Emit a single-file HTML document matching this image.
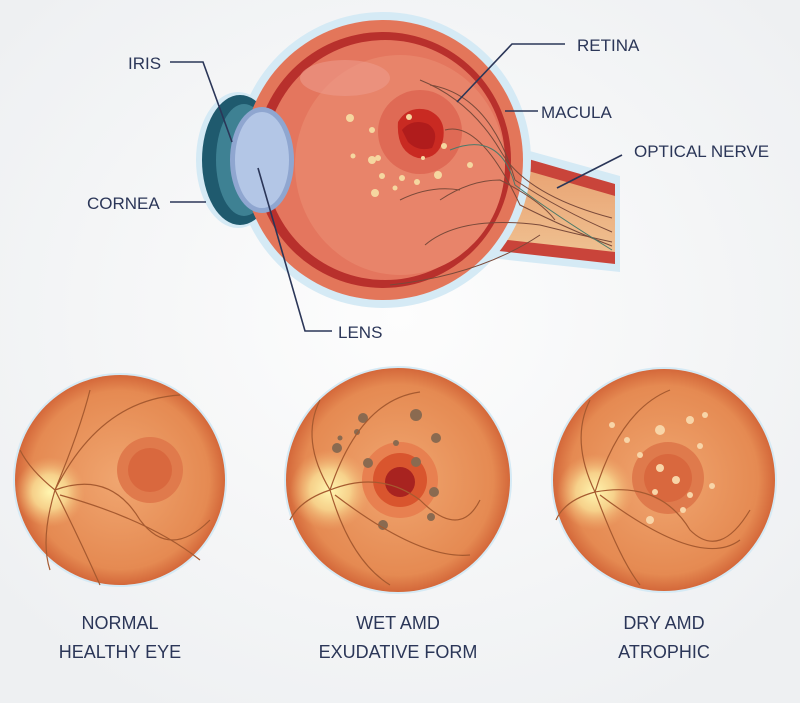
<!DOCTYPE html>
<html><head><meta charset="utf-8"><style>
body{margin:0;background:#fff}
svg{display:block}
text{font-family:"Liberation Sans",sans-serif;fill:#2b3658}
</style></head><body>
<svg width="800" height="703" viewBox="0 0 800 703">
<defs>
<radialGradient id="bg" cx="50%" cy="45%" r="65%"><stop offset="0" stop-color="#fdfdfd"/><stop offset="1" stop-color="#eef0f2"/></radialGradient>
<radialGradient id="fd" cx="50%" cy="50%" r="50%"><stop offset="0" stop-color="#f0a670"/><stop offset="0.85" stop-color="#e58a52"/><stop offset="1" stop-color="#d4683a"/></radialGradient>
<radialGradient id="disc" cx="50%" cy="50%" r="50%"><stop offset="0" stop-color="#fff6b0"/><stop offset="0.5" stop-color="#f8d890" stop-opacity="0.9"/><stop offset="1" stop-color="#f0b070" stop-opacity="0"/></radialGradient>
<linearGradient id="nerve" x1="0" y1="0" x2="0" y2="1"><stop offset="0" stop-color="#e8a070"/><stop offset="1" stop-color="#efc090"/></linearGradient>
</defs>
<rect width="800" height="703" fill="url(#bg)"/>
<polygon points="490,140 620,176 620,272 490,258" fill="#d5eaf5"/>
<polygon points="490,148 615,184 615,264 490,250" fill="#c9443a"/>
<polygon points="490,160 615,196 615,252 490,238" fill="url(#nerve)"/>
<circle cx="383" cy="160" r="148" fill="#d5eaf5"/>
<ellipse cx="238" cy="160" rx="42" ry="68" fill="#d5eaf5"/>
<ellipse cx="240" cy="160" rx="38" ry="65" fill="#1f5a6e"/>
<ellipse cx="244" cy="160" rx="28" ry="56" fill="#3e8193"/>
<circle cx="383" cy="160" r="140" fill="#e3765a"/>
<circle cx="383" cy="160" r="128" fill="#b8302c"/>
<circle cx="385" cy="160" r="120" fill="#e4765e"/>
<ellipse cx="400" cy="165" rx="105" ry="110" fill="#e8846a"/>
<ellipse cx="345" cy="78" rx="45" ry="18" fill="#ec9a8a" opacity="0.6"/>
<ellipse cx="262" cy="160" rx="32" ry="53" fill="#8fa6d0"/>
<ellipse cx="262" cy="160" rx="27" ry="48" fill="#b3c6e6"/>
<circle cx="420" cy="132" r="42" fill="#df6a55"/>
<path d="M398,122 Q408,105 428,110 Q447,118 443,140 Q438,160 418,158 Q396,152 398,122Z" fill="#c92a22"/>
<path d="M402,130 Q412,118 428,124 Q440,132 432,148 Q418,152 408,142Z" fill="#b01c1c"/>
<g fill="#f5d7a0">
<circle cx="350" cy="118" r="4"/><circle cx="372" cy="130" r="3"/><circle cx="378" cy="158" r="3"/><circle cx="353" cy="156" r="2.5"/><circle cx="372" cy="160" r="4"/><circle cx="382" cy="176" r="3"/><circle cx="375" cy="193" r="4"/><circle cx="395" cy="188" r="2.5"/><circle cx="402" cy="178" r="3"/><circle cx="417" cy="182" r="3"/><circle cx="438" cy="175" r="4"/><circle cx="470" cy="165" r="3"/><circle cx="409" cy="117" r="3"/><circle cx="444" cy="146" r="3"/><circle cx="423" cy="158" r="2"/>
</g>
<g fill="none" stroke="#7a4a3a" stroke-width="1">
<path d="M420,80 Q470,100 500,150 Q525,195 612,218"/><path d="M430,85 Q490,95 515,180 Q560,210 612,232"/>
<path d="M445,130 Q480,120 520,205 Q570,230 612,246"/><path d="M440,200 Q470,180 500,180 Q540,200 555,220"/>
<path d="M400,200 Q430,185 460,190"/><path d="M425,245 Q460,215 540,225 Q580,235 612,242"/><path d="M390,285 Q480,275 540,235"/>
</g>
<path d="M450,150 Q500,130 515,185 Q555,215 612,250" fill="none" stroke="#4a7a6a" stroke-width="1"/>
<g fill="none" stroke="#2b3658" stroke-width="1.6">
<polyline points="170,62 203,62 232,142"/><polyline points="170,202 206,202"/>
<polyline points="332,331 305,331 258,168"/><polyline points="565,44 512,44 457,102"/>
<polyline points="538,111 505,111"/><polyline points="622,155 557,188"/>
</g>
<g font-size="17">
<text x="128" y="69">IRIS</text><text x="87" y="209">CORNEA</text><text x="338" y="338">LENS</text>
<text x="577" y="51">RETINA</text><text x="541" y="118">MACULA</text><text x="634" y="157">OPTICAL NERVE</text>
</g>
<g>
<circle cx="120" cy="480" r="107" fill="#d5eaf5"/><circle cx="120" cy="480" r="105" fill="url(#fd)"/>
<circle cx="50" cy="492" r="35" fill="url(#disc)"/>
<circle cx="150" cy="470" r="33" fill="#e07a4c"/><circle cx="150" cy="470" r="22" fill="#d9683e"/>
<g fill="none" stroke="#a65a30" stroke-width="1.2"><path d="M55,490 Q80,430 90,390"/><path d="M55,490 Q100,400 180,395"/><path d="M55,490 Q110,470 140,520 Q170,560 210,520"/><path d="M55,490 Q80,540 100,585"/><path d="M55,490 Q30,470 20,450"/><path d="M55,490 Q40,540 50,570"/><path d="M60,495 Q150,520 200,560"/></g>
</g>
<g>
<circle cx="398" cy="480" r="114" fill="#d5eaf5"/><circle cx="398" cy="480" r="112" fill="url(#fd)"/>
<circle cx="330" cy="490" r="40" fill="url(#disc)"/>
<circle cx="400" cy="480" r="38" fill="#e88050"/><circle cx="400" cy="480" r="27" fill="#d9552e"/><circle cx="400" cy="482" r="15" fill="#a82320"/>
<g fill="#8a6a50"><circle cx="363" cy="418" r="5"/><circle cx="416" cy="415" r="6"/><circle cx="436" cy="438" r="5"/><circle cx="337" cy="448" r="5"/><circle cx="368" cy="463" r="5"/><circle cx="416" cy="462" r="5"/><circle cx="434" cy="492" r="5"/><circle cx="383" cy="525" r="5"/><circle cx="431" cy="517" r="4"/><circle cx="357" cy="432" r="3"/><circle cx="396" cy="443" r="3"/><circle cx="340" cy="438" r="2.5"/></g>
<g fill="none" stroke="#a65a30" stroke-width="1.2"><path d="M330,490 Q360,400 420,392"/><path d="M330,490 Q300,440 320,400"/><path d="M330,490 Q380,470 420,500 Q460,540 480,500"/><path d="M330,490 Q350,560 390,585"/><path d="M330,490 Q300,500 290,520"/><path d="M335,495 Q420,560 470,555"/></g>
</g>
<g>
<circle cx="664" cy="480" r="113" fill="#d5eaf5"/><circle cx="664" cy="480" r="111" fill="url(#fd)"/>
<circle cx="595" cy="492" r="38" fill="url(#disc)"/>
<circle cx="668" cy="478" r="36" fill="#df7a4c"/><circle cx="668" cy="478" r="24" fill="#d9683e"/>
<g fill="#f8d5a8"><circle cx="627" cy="440" r="3"/><circle cx="660" cy="430" r="5"/><circle cx="690" cy="420" r="4"/><circle cx="700" cy="446" r="3"/><circle cx="640" cy="455" r="3"/><circle cx="660" cy="468" r="4"/><circle cx="676" cy="480" r="4"/><circle cx="655" cy="492" r="3"/><circle cx="690" cy="495" r="3"/><circle cx="712" cy="486" r="3"/><circle cx="650" cy="520" r="4"/><circle cx="612" cy="425" r="3"/><circle cx="705" cy="415" r="3"/><circle cx="683" cy="510" r="3"/></g>
<g fill="none" stroke="#a65a30" stroke-width="1.2"><path d="M595,492 Q620,410 670,390"/><path d="M595,492 Q570,440 590,400"/><path d="M595,492 Q660,480 690,530 Q720,560 750,510"/><path d="M595,492 Q620,560 640,585"/><path d="M595,492 Q565,500 556,520"/><path d="M600,495 Q700,570 740,540"/></g>
</g>
<g font-size="18" text-anchor="middle">
<text x="120" y="629">NORMAL</text><text x="120" y="658">HEALTHY EYE</text>
<text x="398" y="629">WET AMD</text><text x="398" y="658">EXUDATIVE FORM</text>
<text x="664" y="629">DRY AMD</text><text x="664" y="658">ATROPHIC</text>
</g>
</svg>
</body></html>
